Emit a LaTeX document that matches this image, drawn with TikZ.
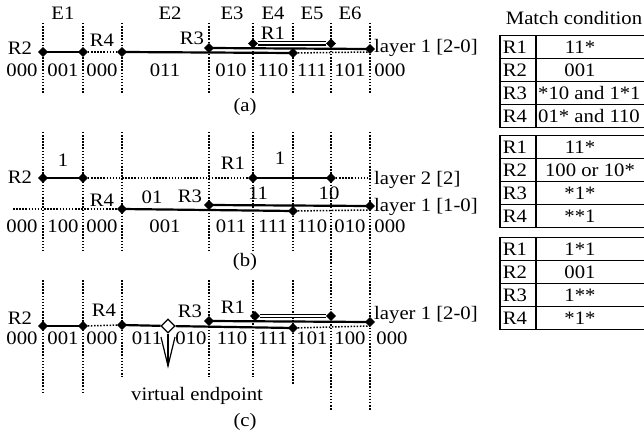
\documentclass[tikz,border=0pt]{standalone}
\usepackage{fontspec}
\setmainfont[FakeStretch=1.09]{Liberation Serif}
\usetikzlibrary{shapes.geometric}
\begin{document}
\begin{tikzpicture}[x=1pt,y=-1pt,
  txt/.style={inner sep=0pt,font=\fontsize{19}{21}\selectfont},
  dia/.style={diamond,fill=black,draw=black,inner sep=0pt,minimum size=9.5pt},
  vdia/.style={diamond,fill=white,draw=black,line width=1.3pt,inner sep=0pt,minimum size=14pt},
  vline/.style={line width=1.5pt,dash pattern=on 1.5pt off 1.6pt},
  hline/.style={line width=1.5pt,dash pattern=on 1.5pt off 1.6pt},
  seg/.style={line width=2.2pt},
  dseg/.style={double,double distance=2pt,line width=1.3pt},
  tab/.style={line width=1.3pt}]
\useasboundingbox (0,0) rectangle (644,438);
\clip (0,0) rectangle (644,438);

% ---------- column labels ----------
\foreach \lab/\x in {E1/63,E2/170,E3/232,E4/273,E5/312,E6/350}
  \node[txt] (col\lab) at (\x,13) {\lab};

% ---------- panel (a) ----------
\foreach \x [count=\i] in {43,83,122,209,253,293,331,370}{
  \coordinate (at\i) at (\x,23); \coordinate (ab\i) at (\x,93);
  \draw[vline] (at\i) -- (ab\i);
}
\coordinate (aend) at (370,52);
\node[dia] (a2l) at (43,52) {};
\node[dia] (a2r) at (83,52) {};
\node[dia] (a4) at (122,52) {};
\node[dia] (am) at (293,53) {};
\node[dia] (a3l) at (209,48) {};
\node[dia] (a3r) at (370,49) {};
\node[dia] (a1l) at (253,43.5) {};
\node[dia] (a1r) at (331,43.5) {};
\draw[seg] (a2l.center) -- (a2r.center);
\draw[hline] (a2r) -- (a4);
\draw[seg] (a4.center) -- (am.center);
\draw[hline] (am) -- (aend);
\draw[seg] (a3l.center) -- (a3r.center);
\draw[dseg] (a1l) -- (a1r);
\node[txt] (aR2) at (20,48) {R2};
\node[txt] (aR4) at (102,40) {R4};
\node[txt] (aR3) at (192,38) {R3};
\node[txt] (aR1) at (273,33) {R1};
\node[txt,anchor=west] (alay) at (374,48) {layer 1 [2-0]};
\foreach \b/\x [count=\i] in {000/22,001/63,000/102,011/165,010/231,110/273,111/312,101/350,000/390}
  \node[txt] (abit\i) at (\x,70) {\b};
\node[txt] (capa) at (245,107) {(a)};

% ---------- panel (b) ----------
\foreach \x [count=\i] in {43,83,122,209,253,293,331,370}{
  \coordinate (bt\i) at (\x,132); \coordinate (bb\i) at (\x,250);
  \draw[vline] (bt\i) -- (bb\i);
}
\coordinate (b2end) at (370,178);
\coordinate (b1start) at (13,209);
\coordinate (b1end) at (370,210);
\node[dia] (b2l) at (43,178) {};
\node[dia] (b2r) at (83,178) {};
\node[dia] (b1l) at (253,178) {};
\node[dia] (b1r) at (331,178) {};
\draw[seg] (b2l.center) -- (b2r.center);
\draw[hline] (b2r) -- (b1l);
\draw[seg] (b1l.center) -- (b1r.center);
\draw[hline] (b1r) -- (b2end);
\node[dia] (b4) at (122,209) {};
\node[dia] (bm) at (293,211) {};
\node[dia] (b3l) at (209,205) {};
\node[dia] (b3r) at (370,206) {};
\draw[hline] (b1start) -- (b4);
\draw[seg] (b4.center) -- (bm.center);
\draw[hline] (bm) -- (b1end);
\draw[seg] (b3l.center) -- (b3r.center);
\node[txt] (bR2) at (20,177) {R2};
\node[txt] (bone2) at (63,160) {1};
\node[txt] (bR1) at (233,163) {R1};
\node[txt] (bone1) at (280,158) {1};
\node[txt] (bR4) at (102,200) {R4};
\node[txt] (b01) at (152,197) {01};
\node[txt] (bR3) at (190,196) {R3};
\node[txt] (b11) at (258,193) {11};
\node[txt] (b10) at (329,193) {10};
\node[txt,anchor=west] (blay2) at (374,180) {layer 2 [2]};
\node[txt,anchor=west] (blay1) at (374,207) {layer 1 [1-0]};
\foreach \b/\x [count=\i] in {000/22,100/63,000/102,001/165,011/231,111/273,110/312,010/350,000/390}
  \node[txt] (bbit\i) at (\x,226) {\b};
\node[txt] (capb) at (245,262) {(b)};

% ---------- panel (c) ----------
\foreach \x/\t/\u [count=\i] in {43/280/393,83/280/393,122/280/377,209/280/377,253/280/377,293/280/385,331/250/410,370/250/410}{
  \coordinate (ct\i) at (\x,\t); \coordinate (cb\i) at (\x,\u);
  \draw[vline] (ct\i) -- (cb\i);
}
\coordinate (cend) at (370,326);
\node[dia] (c2l) at (43,326) {};
\node[dia] (c2r) at (83,326) {};
\node[dia] (c4) at (122,325) {};
\node[vdia] (cv) at (168,326) {};
\node[dia] (cm) at (293,328) {};
\node[dia] (c3l) at (209,321) {};
\node[dia] (c3r) at (370,322) {};
\node[dia] (c1l) at (255,316) {};
\node[dia] (c1r) at (331,316) {};
\draw[seg] (c2l.center) -- (c2r.center);
\draw[hline] (c2r) -- (c4);
\draw[seg] (c4.center) -- (cv);
\draw[seg] (cv) -- (cm.center);
\draw[hline] (cm) -- (cend);
\draw[seg] (c3l.center) -- (c3r.center);
\draw[dseg] (c1l) -- (c1r);
% pointer to the virtual endpoint
\coordinate (ctip) at (168,366);
\draw[line width=1.2pt] (cv.south) -- (ctip);
\draw[line width=1.2pt] ([xshift=-7pt,yshift=29pt]ctip) -- (ctip) -- ([xshift=7pt,yshift=29pt]ctip);
\node[txt] (cR2) at (20,318) {R2};
\node[txt] (cR4) at (104,310) {R4};
\node[txt] (cR3) at (190,311) {R3};
\node[txt] (cR1) at (233,307) {R1};
\node[txt,anchor=west] (clay) at (374,315) {layer 1 [2-0]};
\foreach \b/\x [count=\i] in {000/22,001/63,000/102,011/147,010/191,110/232,111/273,101/312,100/350,000/392}
  \node[txt] (cbit\i) at (\x,338) {\b};
\node[txt] (cvirt) at (197,396) {virtual endpoint};
\node[txt] (capc) at (245,422) {(c)};

% ---------- match condition tables ----------
\node[txt] (mtitle) at (574,18) {Match condition};
\foreach \top [count=\k] in {35.5,135.5,237.5}{
  \draw[tab] (660,\top) -- (500,\top) -- (500,\top+92) -- (660,\top+92);
  \draw[tab] (536,\top) -- (536,\top+92);
  \foreach \r in {1,2,3} \draw[tab] (500,\top+23*\r) -- (660,\top+23*\r);
  \foreach \r in {1,2,3,4} \node[txt] (t\k r\r) at (515,\top+23*\r-11.5) {R\r};
}
\node[txt] (m11) at (580,47) {11*};
\node[txt] (m12) at (580,70) {001};
\node[txt,anchor=west] (m13) at (538,93) {*10 and 1*1};
\node[txt,anchor=west] (m14) at (538,116) {01* and 110};
\node[txt] (m21) at (580,147) {11*};
\node[txt] (m22) at (590,170) {100 or 10*};
\node[txt] (m23) at (580,193) {*1*};
\node[txt] (m24) at (580,216) {**1};
\node[txt] (m31) at (580,249) {1*1};
\node[txt] (m32) at (580,272) {001};
\node[txt] (m33) at (580,295) {1**};
\node[txt] (m34) at (580,318) {*1*};
\end{tikzpicture}
\end{document}
